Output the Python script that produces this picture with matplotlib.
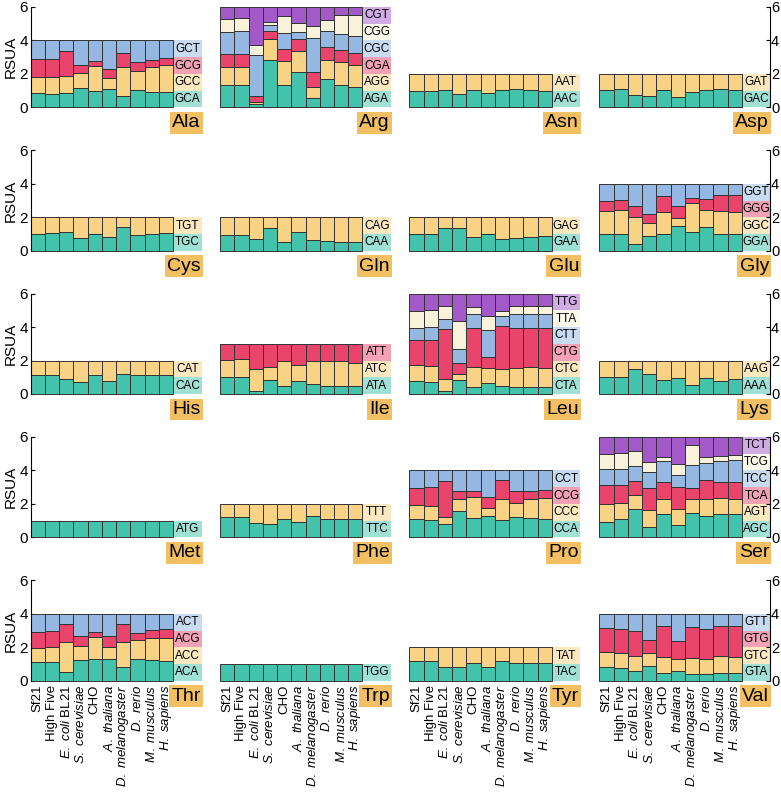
import matplotlib
matplotlib.use('Agg')
import matplotlib.pyplot as plt
from matplotlib.patches import Rectangle

plt.rcParams['font.family'] = ['Liberation Sans', 'DejaVu Sans']
plt.rcParams['mathtext.fontset'] = 'custom'
plt.rcParams['mathtext.rm'] = 'Liberation Sans'
plt.rcParams['mathtext.it'] = 'Liberation Sans:italic'

organisms = ['Sf21', 'High Five', r'$\mathit{E.\ coli}$ BL21',
             r'$\mathit{S.\ cerevisiae}$', 'CHO', r'$\mathit{A.\ thaliana}$',
             r'$\mathit{D.\ melanogaster}$', r'$\mathit{D.\ rerio}$',
             r'$\mathit{M.\ musculus}$', r'$\mathit{H.\ sapiens}$']

# RSUA per codon, stacked bottom to top, one value per organism
ala_codons = ['GCA', 'GCC', 'GCG', 'GCT']
ala_rsua = [[0.84, 0.78, 0.84, 1.18, 1.00, 1.10, 0.68, 1.04, 0.94, 0.94],
            [1.00, 1.02, 1.06, 0.86, 1.48, 0.64, 1.76, 1.16, 1.50, 1.58],
            [1.06, 1.08, 1.48, 0.48, 0.30, 0.54, 0.80, 0.52, 0.40, 0.42],
            [1.10, 1.12, 0.62, 1.48, 1.22, 1.72, 0.76, 1.28, 1.16, 1.06]]

arg_codons = ['AGA', 'AGG', 'CGA', 'CGC', 'CGG', 'CGT']
arg_rsua = [[1.34, 1.34, 0.18, 2.84, 1.34, 2.14, 0.54, 1.68, 1.34, 1.24],
            [1.10, 1.10, 0.14, 1.24, 1.40, 1.20, 0.66, 1.16, 1.34, 1.30],
            [0.76, 0.74, 0.36, 0.46, 0.74, 0.74, 0.94, 0.74, 0.72, 0.70],
            [1.30, 1.36, 2.46, 0.36, 0.96, 0.42, 2.00, 0.96, 0.98, 1.04],
            [0.78, 0.80, 0.56, 0.20, 1.04, 0.54, 0.74, 0.70, 1.16, 1.26],
            [0.72, 0.66, 2.30, 0.90, 0.52, 0.96, 1.12, 0.76, 0.46, 0.46]]

asn_codons = ['AAC', 'AAT']
asn_rsua = [[1.00, 1.00, 1.05, 0.78, 1.03, 0.88, 1.03, 1.12, 1.05, 0.98],
            [1.00, 1.00, 0.95, 1.22, 0.97, 1.12, 0.97, 0.88, 0.95, 1.02]]

asp_codons = ['GAC', 'GAT']
asp_rsua = [[1.04, 1.08, 0.74, 0.68, 1.04, 0.60, 0.90, 1.04, 1.08, 1.04],
            [0.96, 0.92, 1.26, 1.32, 0.96, 1.40, 1.10, 0.96, 0.92, 0.96]]

cys_codons = ['TGC', 'TGT']
cys_rsua = [[0.98, 1.04, 1.12, 0.76, 1.00, 0.80, 1.40, 0.92, 1.00, 1.06],
            [1.02, 0.96, 0.88, 1.24, 1.00, 1.20, 0.60, 1.08, 1.00, 0.94]]

gln_codons = ['CAA', 'CAG']
gln_rsua = [[0.96, 0.92, 0.70, 1.36, 0.54, 1.12, 0.64, 0.58, 0.52, 0.52],
            [1.04, 1.08, 1.30, 0.64, 1.46, 0.88, 1.36, 1.42, 1.48, 1.48]]

glu_codons = ['GAA', 'GAG']
glu_rsua = [[1.02, 1.00, 1.36, 1.38, 0.84, 1.02, 0.68, 0.76, 0.82, 0.86],
            [0.98, 1.00, 0.64, 0.62, 1.16, 0.98, 1.32, 1.24, 1.18, 1.14]]

gly_codons = ['GGA', 'GGC', 'GGG', 'GGT']
gly_rsua = [[1.02, 0.98, 0.38, 0.90, 1.02, 1.46, 1.14, 1.40, 1.02, 0.98],
            [1.34, 1.44, 1.66, 0.78, 1.28, 0.52, 1.70, 1.06, 1.34, 1.36],
            [0.62, 0.62, 0.62, 0.52, 0.98, 0.68, 0.30, 0.66, 0.96, 1.02],
            [1.02, 0.96, 1.34, 1.80, 0.72, 1.34, 0.86, 0.88, 0.68, 0.64]]

his_codons = ['CAC', 'CAT']
his_rsua = [[1.12, 1.14, 0.90, 0.70, 1.14, 0.76, 1.20, 1.16, 1.12, 1.16],
            [0.88, 0.86, 1.10, 1.30, 0.86, 1.24, 0.80, 0.84, 0.88, 0.84]]

ile_codons = ['ATA', 'ATC', 'ATT']
ile_rsua = [[1.04, 1.04, 0.20, 0.84, 0.48, 0.76, 0.58, 0.50, 0.50, 0.50],
            [1.00, 1.04, 1.28, 0.76, 1.48, 1.00, 1.40, 1.48, 1.48, 1.38],
            [0.96, 0.92, 1.52, 1.40, 1.04, 1.24, 1.02, 1.02, 1.02, 1.12]]

leu_codons = ['CTA', 'CTC', 'CTG', 'CTT', 'TTA', 'TTG']
leu_rsua = [[0.76, 0.70, 0.20, 0.84, 0.44, 0.64, 0.50, 0.40, 0.44, 0.40],
            [0.96, 0.98, 0.68, 0.34, 1.20, 0.94, 0.98, 1.14, 1.20, 1.16],
            [1.52, 1.56, 3.00, 0.70, 2.30, 0.66, 2.56, 2.40, 2.30, 2.38],
            [0.68, 0.74, 0.60, 0.80, 0.84, 1.60, 0.60, 0.86, 0.86, 0.86],
            [1.04, 1.04, 0.80, 1.66, 0.42, 0.84, 0.30, 0.44, 0.44, 0.44],
            [1.04, 0.98, 0.72, 1.66, 0.80, 1.32, 1.06, 0.76, 0.76, 0.76]]

lys_codons = ['AAA', 'AAG']
lys_rsua = [[1.04, 1.00, 1.52, 1.18, 0.84, 0.96, 0.56, 0.98, 0.80, 0.88],
            [0.96, 1.00, 0.48, 0.82, 1.16, 1.04, 1.44, 1.02, 1.20, 1.12]]

met_codons = ['ATG']
met_rsua = [[1.00, 1.00, 1.00, 1.00, 1.00, 1.00, 1.00, 1.00, 1.00, 1.00]]

phe_codons = ['TTC', 'TTT']
phe_rsua = [[1.20, 1.20, 0.86, 0.80, 1.10, 0.94, 1.26, 1.08, 1.10, 1.08],
            [0.80, 0.80, 1.14, 1.20, 0.90, 1.06, 0.74, 0.92, 0.90, 0.92]]

pro_codons = ['CCA', 'CCC', 'CCG', 'CCT']
pro_rsua = [[1.08, 1.03, 0.77, 1.56, 1.16, 1.29, 1.03, 1.21, 1.13, 1.08],
            [0.87, 0.84, 0.47, 0.71, 1.24, 0.48, 1.27, 0.87, 1.17, 1.27],
            [0.98, 1.13, 2.11, 0.47, 0.34, 0.63, 1.15, 0.66, 0.44, 0.45],
            [1.07, 1.00, 0.65, 1.26, 1.26, 1.60, 0.55, 1.26, 1.26, 1.20]]

ser_codons = ['AGC', 'AGT', 'TCA', 'TCC', 'TCG', 'TCT']
ser_rsua = [[0.94, 1.08, 1.68, 0.64, 1.38, 0.74, 1.48, 1.28, 1.40, 1.40],
            [1.06, 1.00, 0.86, 1.00, 0.92, 0.98, 0.82, 1.02, 0.98, 0.92],
            [1.10, 1.06, 0.80, 1.30, 1.00, 1.28, 0.62, 1.10, 0.92, 0.98],
            [0.98, 0.94, 0.90, 0.94, 1.28, 0.74, 1.42, 1.04, 1.26, 1.30],
            [0.90, 0.96, 0.94, 0.60, 0.22, 0.62, 1.20, 0.34, 0.28, 0.32],
            [1.02, 0.96, 0.82, 1.52, 1.20, 1.64, 0.46, 1.22, 1.16, 1.08]]

thr_codons = ['ACA', 'ACC', 'ACG', 'ACT']
thr_rsua = [[1.14, 1.14, 0.50, 1.24, 1.28, 1.28, 0.80, 1.32, 1.22, 1.16],
            [0.84, 0.88, 1.80, 0.86, 1.36, 0.74, 1.52, 1.12, 1.36, 1.42],
            [0.94, 0.94, 1.10, 0.58, 0.28, 0.66, 1.06, 0.44, 0.44, 0.50],
            [1.08, 1.04, 0.60, 1.32, 1.08, 1.32, 0.62, 1.12, 0.98, 0.92]]

trp_codons = ['TGG']
trp_rsua = [[1.00, 1.00, 1.00, 1.00, 1.00, 1.00, 1.00, 1.00, 1.00, 1.00]]

tyr_codons = ['TAC', 'TAT']
tyr_rsua = [[1.16, 1.16, 0.80, 0.82, 1.03, 0.84, 1.19, 1.08, 1.08, 1.08],
            [0.84, 0.84, 1.20, 1.18, 0.97, 1.16, 0.81, 0.92, 0.92, 0.92]]

val_codons = ['GTA', 'GTC', 'GTG', 'GTT']
val_rsua = [[0.80, 0.76, 0.56, 0.86, 0.46, 0.58, 0.40, 0.40, 0.46, 0.46],
            [0.90, 0.90, 0.92, 0.78, 0.96, 0.74, 0.94, 0.92, 1.00, 0.94],
            [1.44, 1.44, 1.48, 0.82, 1.84, 1.08, 1.86, 1.78, 1.80, 1.86],
            [0.86, 0.90, 1.04, 1.54, 0.74, 1.60, 0.80, 0.90, 0.74, 0.74]]

panels = [('Ala', ala_codons, ala_rsua), ('Arg', arg_codons, arg_rsua),
          ('Asn', asn_codons, asn_rsua), ('Asp', asp_codons, asp_rsua),
          ('Cys', cys_codons, cys_rsua), ('Gln', gln_codons, gln_rsua),
          ('Glu', glu_codons, glu_rsua), ('Gly', gly_codons, gly_rsua),
          ('His', his_codons, his_rsua), ('Ile', ile_codons, ile_rsua),
          ('Leu', leu_codons, leu_rsua), ('Lys', lys_codons, lys_rsua),
          ('Met', met_codons, met_rsua), ('Phe', phe_codons, phe_rsua),
          ('Pro', pro_codons, pro_rsua), ('Ser', ser_codons, ser_rsua),
          ('Thr', thr_codons, thr_rsua), ('Trp', trp_codons, trp_rsua),
          ('Tyr', tyr_codons, tyr_rsua), ('Val', val_codons, val_rsua)]

colors = ['#43C2AC', '#F9D385', '#E9446C', '#94B8E2', '#F9F2DA', '#A459C9']
aa_color = '#F2C063'

W, H = 781, 792
col_left = [30.7, 220.0, 409.3, 599.3]
row_zero = [107.3, 250.7, 394.0, 537.3, 680.7]
ax_w, ax_h = 171, 100.3

fig = plt.figure(figsize=(W / 100, H / 100), dpi=100)

for k, (aa, codons, rsua) in enumerate(panels):
    r, c = divmod(k, 4)
    ax = fig.add_axes([col_left[c] / W, 1 - row_zero[r] / H, ax_w / W, ax_h / H])
    x = list(range(len(organisms)))
    bottom = [0.0] * len(x)
    for i, (codon, vals) in enumerate(zip(codons, rsua)):
        ax.bar(x, vals, bottom=bottom, width=1, color=colors[i],
               edgecolor='#333333', linewidth=0.7, zorder=2, clip_on=False)
        bottom = [b + v for b, v in zip(bottom, vals)]
        # codon label box next to the stack
        ax.add_patch(Rectangle((9.5, i), 2, 1, facecolor=colors[i], alpha=0.5,
                               lw=0, clip_on=False))
        ax.text(10.5, i + 0.5, codon, ha='center', va='center', fontsize=8.5)
    ax.text(11.42, -0.42, aa, ha='right', va='top', fontsize=14,
            bbox=dict(boxstyle='square,pad=0.12', fc=aa_color, ec='none'),
            clip_on=False)
    ax.set_xlim(-0.5, 11.5)
    ax.set_ylim(0, 6)
    for s in ax.spines.values():
        s.set_visible(False)
    if c == 0:
        ax.spines['left'].set_visible(True)
        ax.set_yticks([0, 2, 4, 6])
        ax.tick_params(axis='y', direction='in', length=3, labelsize=11, pad=2)
        ax.set_ylabel('RSUA', fontsize=11, labelpad=1)
    elif c == 3:
        ax.spines['right'].set_visible(True)
        ax.yaxis.tick_right()
        ax.set_yticks([0, 2, 4, 6])
        ax.tick_params(axis='y', direction='in', length=3, labelsize=10.5, pad=0.5)
    else:
        ax.set_yticks([])
    if r == 4:
        ax.set_xticks(x)
        ax.set_xticklabels(organisms, rotation=90, fontsize=9.5)
        ax.tick_params(axis='x', length=0, pad=3)
    else:
        ax.set_xticks([])

fig.savefig('out.png', dpi=100)
